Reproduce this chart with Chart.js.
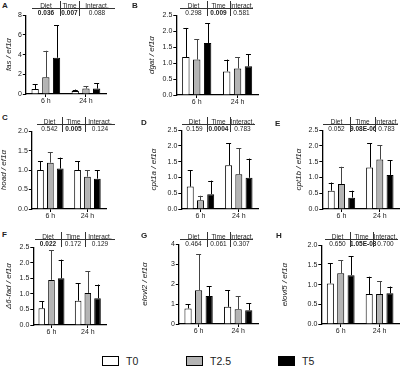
<!DOCTYPE html>
<html>
<head>
<meta charset="utf-8">
<script src="https://cdn.jsdelivr.net/npm/chart.js@4"></script>
<style>
  html,body{margin:0;padding:0;background:#fff;}
  body{width:401px;height:367px;position:relative;overflow:hidden;font-family:"Liberation Sans",Arial,sans-serif;color:#222;}
  canvas{position:absolute;}
  .lt{position:absolute;font-weight:bold;font-size:8px;}
  .tb{position:absolute;font-size:6.5px;}
  .tb div{position:absolute;text-align:center;line-height:7px;white-space:nowrap;}
  .hl{position:absolute;height:0;border-top:1px solid #333;}
  .vl{position:absolute;width:0;border-left:1px solid #333;}
  .lg{position:absolute;top:355px;font-size:10.5px;display:flex;align-items:center;}
  .lg span{display:inline-block;width:15px;height:8px;border:1px solid #000;margin-right:7px;}
</style>
</head>
<body>
<script>
/* ---------- 資料 ---------- */
const panels = ['A','B','C','D','E','F','G','H'];
const genes = ['fas','dgat','hoad','cpt1a','cpt1b','Δ6-fad','elovl2','elovl5'];
const timepoints = ['6 h','24 h'];
const groupNames = ['T0','T2.5','T5'];
// [6 h, 24 h]
const meanT0  = [[0.51,0.3],[1.19,0.74],[1.0,1.0],[0.71,1.39],[0.58,1.32],[0.54,0.78],[0.78,0.86],[1.03,0.76]];
const sdT0    = [[0.49,0.15],[0.91,0.37],[0.23,0.23],[0.52,0.69],[0.26,0.76],[0.23,0.56],[0.22,0.83],[0.51,0.44]];
const meanT25 = [[1.69,0.55],[1.11,0.83],[1.19,0.83],[0.28,1.1],[0.79,1.57],[1.45,1.03],[1.69,0.74],[1.29,0.76]];
const sdT25   = [[2.7,0.25],[0.63,0.36],[0.27,0.17],[0.14,0.82],[0.55,0.46],[0.95,0.7],[1.81,0.66],[0.33,0.33]];
const meanT5  = [[3.68,0.55],[1.63,0.9],[1.04,0.78],[0.47,0.99],[0.36,1.08],[1.5,0.86],[1.4,0.69],[1.24,0.78]];
const sdT5    = [[3.31,0.53],[0.61,0.37],[0.28,0.22],[0.43,0.61],[0.22,0.47],[0.6,0.44],[0.5,0.36],[0.48,0.17]];
const yMax  = [8,2.5,2,2.5,2.5,2.5,4,2];
const yStep = [2,0.5,0.5,0.5,0.5,0.5,1,0.5];
const yDec  = [0,1,1,1,1,1,0,1];
const tableHead = ['Diet','Time','Interact.'];
const pDiet  = ['0.036','0.298','0.542','0.159','0.052','0.022','0.464','0.650'];
const pTime  = ['0.007','0.009','0.005','0.0004','9.08E-06','0.172','0.061','1.05E-03'];
const pInter = ['0.088','0.581','0.124','0.783','0.783','0.129','0.307','0.700'];

/* ---------- 版面（像素） ---------- */
// lx,ly: 字母；tx: y 標題中心；ax: y 軸；r: 右邊；t/b: 圖區上/下；tb: 表格 [y, x0, x1, x2, x3]
const LAYOUT = [
  {lx:2,  ly:1,   tx:9,    ax:26,  r:106, t:15,  b:94,  tb:[5,32,60,79,115]},
  {lx:132,ly:1,   tx:151.5,ax:176, r:258, t:15,  b:95,  tb:[5,180,207,230,253]},
  {lx:2,  ly:113, tx:4,    ax:32,  r:106, t:131, b:209, tb:[121,37,62,85,115]},
  {lx:141,ly:118, tx:153.5,ax:181, r:258, t:130, b:209, tb:[121,182,207,230,255]},
  {lx:275,ly:119, tx:298.5,ax:322, r:399, t:130, b:209, tb:[121,323,350,375,398]},
  {lx:2,  ly:230, tx:8.5,  ax:33,  r:106, t:247, b:325, tb:[236,35,61,85,115]},
  {lx:141,ly:231, tx:145,  ax:179, r:258, t:244, b:324, tb:[236,180,207,230,253]},
  {lx:276,ly:231, tx:284.5,ax:321, r:399, t:245, b:324, tb:[236,325,350,373,398]},
];
const PAD_T = 5, XH = 14, FONT = '"Liberation Sans", Arial, sans-serif';
const FILL = ['#ffffff','#b4b4b4','#000000'];
const ERRC = ['#000','#444','#000'];

const el = (t,c)=>{const e=document.createElement(t); if(c)e.className=c; return e;};

/* 誤差線：只畫上半 */
const errorBars = {
  id:'errorBars',
  afterDatasetsDraw(chart){
    const {ctx, scales:{y}} = chart;
    chart.data.datasets.forEach((ds,i)=>{
      chart.getDatasetMeta(i).data.forEach((bar,j)=>{
        const top = y.getPixelForValue(ds.data[j] + ds.sd[j]);
        ctx.save();
        ctx.strokeStyle = ds.errColor; ctx.lineWidth = 1;
        ctx.beginPath();
        ctx.moveTo(Math.round(bar.x)+0.5, bar.y); ctx.lineTo(Math.round(bar.x)+0.5, top);
        ctx.moveTo(bar.x-2.5, Math.round(top)+0.5); ctx.lineTo(bar.x+2.5, Math.round(top)+0.5);
        ctx.stroke(); ctx.restore();
      });
    });
  }
};

function drawTable(k){
  const [ty,x0,x1,x2,x3] = LAYOUT[k].tb;
  const xs = [x0,x1,x2,x3];
  const vals = [pDiet[k], pTime[k], pInter[k]];
  const box = el('div','tb'); box.style.left='0px'; box.style.top='0px';
  for (let c=0;c<3;c++){
    const h = el('div'); h.textContent = tableHead[c];
    h.style.left = xs[c]+'px'; h.style.width = (xs[c+1]-xs[c])+'px'; h.style.top = (ty-3.5)+'px';
    const v = el('div'); v.textContent = vals[c];
    v.style.left = xs[c]+'px'; v.style.width = (xs[c+1]-xs[c])+'px'; v.style.top = (ty+3.5)+'px';
    if (parseFloat(vals[c]) < 0.05) v.style.fontWeight = 'bold';
    box.append(h,v);
  }
  const hl = el('div','hl'); hl.style.left=x0+'px'; hl.style.width=(x3-x0)+'px'; hl.style.top=(ty+3)+'px';
  box.append(hl);
  [x1,x2].forEach(x=>{
    const vl = el('div','vl'); vl.style.left=x+'px'; vl.style.top=(ty-4)+'px'; vl.style.height='15px';
    box.append(vl);
  });
  document.body.append(box);
}

function drawPanel(k){
  const L = LAYOUT[k];
  const left = L.tx - 4.8;
  const cv = el('canvas');
  const w = Math.round(L.r - left + 2), h = Math.round(L.b - L.t + PAD_T + XH);
  cv.width = w; cv.height = h;
  cv.style.left = left+'px'; cv.style.top = (L.t-PAD_T)+'px';
  document.body.append(cv);

  const lt = el('div','lt'); lt.textContent = panels[k];
  lt.style.left = L.lx+'px'; lt.style.top = L.ly+'px';
  document.body.append(lt);
  drawTable(k);

  const means = [meanT0[k], meanT25[k], meanT5[k]];
  const sds = [sdT0[k], sdT25[k], sdT5[k]];
  const yw = L.ax - left;
  new Chart(cv, {
    type:'bar',
    data:{
      labels: timepoints,
      datasets: groupNames.map((g,i)=>({
        label:g, data:means[i], sd:sds[i], errColor:ERRC[i],
        backgroundColor:FILL[i], borderColor:'#000', borderWidth:1,
        categoryPercentage:0.8, barPercentage:0.68,
      }))
    },
    options:{
      responsive:false, animation:false, devicePixelRatio:1,
      layout:{padding:{top:PAD_T,right:2,left:0,bottom:0}},
      plugins:{legend:{display:false}, tooltip:{enabled:false}},
      scales:{
        x:{
          grid:{display:true, drawOnChartArea:false, offset:false, tickLength:3, color:'#000'},
          border:{display:true, color:'#000', width:1.3},
          ticks:{color:'#222', padding:0, font:{family:FONT, size:7}},
          afterFit(s){ s.height = XH; }
        },
        y:{
          min:0, max:yMax[k],
          grid:{drawOnChartArea:false, tickLength:3, color:'#000'},
          border:{display:true, color:'#000', width:1.3},
          ticks:{stepSize:yStep[k], padding:1, color:'#222', font:{family:FONT, size:7},
                 callback:(v)=>Number(v).toFixed(yDec[k])},
          title:{display:true, text:genes[k]+' / ef1α', color:'#222', padding:0,
                 font:{family:FONT, size:8, style:'italic'}},
          afterFit(s){ s.width = yw; }
        }
      }
    },
    plugins:[errorBars]
  });
}

panels.forEach((p,k)=>drawPanel(k));

/* 圖例 */
const LEG_X = [102,186,278];
groupNames.forEach((g,i)=>{
  const d = el('div','lg'); d.style.left = LEG_X[i]+'px';
  const sw = el('span'); sw.style.background = FILL[i];
  d.append(sw, document.createTextNode(g));
  document.body.append(d);
});
</script>
</body>
</html>
